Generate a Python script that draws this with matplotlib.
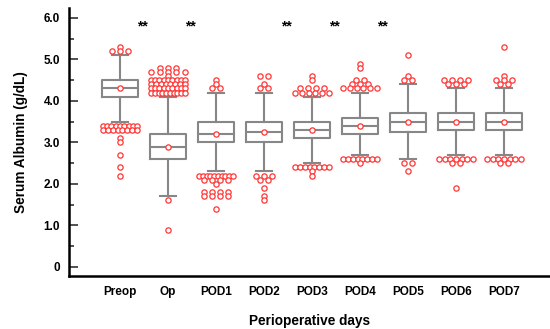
import numpy as np
import matplotlib.pyplot as plt
from matplotlib.ticker import MultipleLocator, FuncFormatter

plt.rcParams['font.family'] = ['Liberation Sans', 'DejaVu Sans']
plt.rcParams['font.weight'] = 'bold'

days = ['Preop', 'Op', 'POD1', 'POD2', 'POD3', 'POD4', 'POD5', 'POD6', 'POD7']

q1 = [4.1, 2.6, 3.0, 3.0, 3.1, 3.2, 3.25, 3.3, 3.3]
median = [4.3, 2.9, 3.2, 3.25, 3.3, 3.4, 3.5, 3.5, 3.5]
q3 = [4.5, 3.2, 3.5, 3.5, 3.5, 3.6, 3.7, 3.7, 3.7]
mean = [4.3, 2.9, 3.2, 3.25, 3.3, 3.4, 3.5, 3.5, 3.5]
whisker_lo = [3.5, 1.7, 2.3, 2.3, 2.5, 2.7, 2.6, 2.7, 2.7]
whisker_hi = [5.1, 4.1, 4.2, 4.2, 4.1, 4.2, 4.4, 4.3, 4.3]

# outliers per day as (value, number of patients)
outliers = [
    [(5.3, 1), (5.2, 3), (3.4, 9), (3.3, 8), (3.1, 1), (3.0, 1), (2.7, 1), (2.4, 1), (2.2, 1)],
    [(4.8, 3), (4.7, 5), (4.6, 1), (4.5, 9), (4.4, 8), (4.3, 9), (4.2, 10), (1.6, 1), (0.9, 1)],
    [(4.5, 1), (4.4, 1), (4.3, 2), (2.2, 10), (2.1, 4), (2.0, 1), (1.8, 4), (1.7, 4), (1.4, 1)],
    [(4.6, 2), (4.4, 1), (4.3, 2), (2.2, 3), (2.1, 2), (1.9, 1), (1.7, 1), (1.6, 1)],
    [(4.6, 1), (4.5, 1), (4.3, 4), (4.2, 6), (2.4, 8), (2.3, 1), (2.2, 1)],
    [(4.9, 1), (4.8, 1), (4.5, 2), (4.4, 3), (4.3, 6), (2.6, 8), (2.5, 1)],
    [(5.1, 1), (4.6, 1), (4.5, 2), (2.5, 2), (2.3, 1)],
    [(4.5, 4), (4.4, 3), (2.6, 7), (2.5, 2), (1.9, 1)],
    [(5.3, 1), (4.6, 1), (4.5, 3), (4.4, 2), (2.6, 7), (2.5, 2)],
]

# pairs of adjacent days with p < 0.01
sig_between = [0.5, 1.5, 3.5, 4.5, 5.5]

gray = '#878787'
red = '#ff3535'

fig = plt.figure(figsize=(5.5, 3.29), dpi=100)
ax = fig.add_axes([69 / 550, 1 - 276 / 329, 481 / 550, 268 / 329])

stats = []
for i in range(len(days)):
    stats.append({'label': days[i], 'med': median[i], 'q1': q1[i], 'q3': q3[i],
                  'whislo': whisker_lo[i], 'whishi': whisker_hi[i],
                  'mean': mean[i], 'fliers': []})

line = dict(color=gray, linewidth=1.5)
ax.bxp(stats, positions=range(len(days)), widths=0.75, capwidths=0.35,
       showmeans=True, showfliers=False,
       boxprops=line, whiskerprops=line, capprops=line, medianprops=line,
       meanprops=dict(marker='o', markerfacecolor='white', markeredgecolor=red,
                      markersize=3.8, markeredgewidth=0.9))

# spread equal values side by side like a dot plot
for i, rows in enumerate(outliers):
    for val, n in rows:
        if n > 1:
            step = min(0.173, 0.71 / (n - 1))
        else:
            step = 0
        offs = (np.arange(n) - (n - 1) / 2) * step
        ax.plot(i + offs, [val] * n, 'o', ms=3.8, mfc='white', mec=red,
                mew=0.9, zorder=4)

for p in sig_between:
    ax.text(p - 0.03, 5.8, '**', ha='center', va='center', fontsize=10)

ax.set_xlim(-1.0625, 8.958)
ax.set_ylim(-0.22, 6.24)

ax.spines['top'].set_visible(False)
ax.spines['right'].set_visible(False)
ax.spines['left'].set_linewidth(1.8)
ax.spines['bottom'].set_linewidth(1.8)

ax.yaxis.set_major_locator(MultipleLocator(1))
ax.yaxis.set_minor_locator(MultipleLocator(0.5))
ax.yaxis.set_major_formatter(FuncFormatter(lambda v, p: '0' if v == 0 else '%.1f' % v))
ax.tick_params(axis='y', which='major', direction='in', length=6.7, width=1.2,
               pad=6.5, labelsize=8.5, color='#333333')
ax.tick_params(axis='y', which='minor', direction='in', length=3.5, width=1.2,
               color='#333333')

ax.set_xticks(range(len(days)))
ax.set_xticklabels(days)
ax.tick_params(axis='x', length=0, pad=7, labelsize=8.5)

ax.set_ylabel('Serum Albumin (g/dL)', fontsize=9.8, fontweight='bold', labelpad=11)
ax.set_xlabel('Perioperative days', fontsize=9.8, fontweight='bold', labelpad=12)

plt.savefig('out.png', dpi=100)
